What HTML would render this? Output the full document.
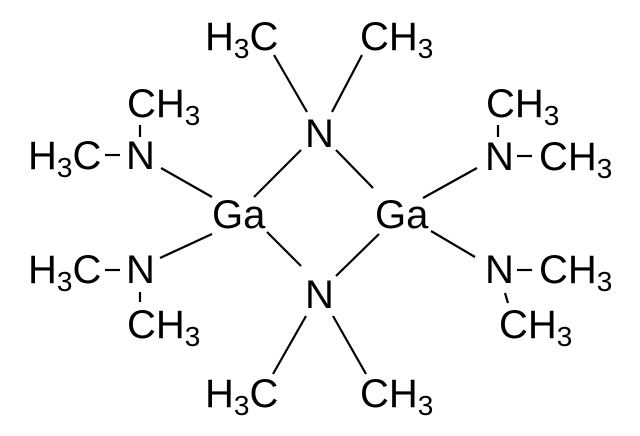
<!DOCTYPE html>
<html><head><style>html,body{margin:0;padding:0;background:#fff}svg{display:block}</style></head>
<body>
<svg width="640" height="436" viewBox="0 0 640 436" xmlns="http://www.w3.org/2000/svg" font-family="Liberation Sans, Arial, sans-serif" font-size="40" fill="#000">
<g stroke="#000" stroke-width="2.2" fill="none">
<line x1="274" y1="55" x2="307" y2="112"/>
<line x1="362" y1="55" x2="332" y2="112"/>
<line x1="301" y1="150" x2="254" y2="197"/>
<line x1="336" y1="150" x2="373" y2="188"/>
<line x1="161" y1="168" x2="212" y2="197"/>
<line x1="212" y1="234" x2="160" y2="258"/>
<line x1="423" y1="198" x2="477" y2="168"/>
<line x1="431" y1="231" x2="475" y2="257"/>
<line x1="267" y1="232" x2="301" y2="266"/>
<line x1="336" y1="276" x2="379" y2="234"/>
<line x1="306" y1="316" x2="273" y2="374"/>
<line x1="333" y1="316" x2="366" y2="374"/>
<line x1="140" y1="125" x2="140" y2="137"/>
<line x1="140" y1="292" x2="140" y2="302"/>
<line x1="498" y1="125" x2="498" y2="137"/>
<line x1="505" y1="293" x2="508" y2="303"/>
<line x1="105" y1="155" x2="120" y2="155"/>
<line x1="105" y1="270" x2="120" y2="270"/>
<line x1="517" y1="156" x2="532" y2="156"/>
<line x1="517" y1="270" x2="532" y2="270"/>
</g>
<text x="205" y="50">H<tspan font-size="28" dy="8">3</tspan><tspan dy="-8">C</tspan></text>
<text x="360" y="50">CH<tspan font-size="28" dy="8">3</tspan></text>
<text x="305" y="147">N</text>
<text x="127" y="117">CH<tspan font-size="28" dy="8">3</tspan></text>
<text x="28" y="169">H<tspan font-size="28" dy="8">3</tspan><tspan dy="-8">C</tspan></text>
<text x="126" y="169">N</text>
<text x="212" y="228">Ga</text>
<text x="375" y="228">Ga</text>
<text x="28" y="283">H<tspan font-size="28" dy="8">3</tspan><tspan dy="-8">C</tspan></text>
<text x="126" y="283">N</text>
<text x="127" y="338">CH<tspan font-size="28" dy="8">3</tspan></text>
<text x="486" y="117">CH<tspan font-size="28" dy="8">3</tspan></text>
<text x="485" y="170">N</text>
<text x="539" y="170">CH<tspan font-size="28" dy="8">3</tspan></text>
<text x="485" y="283">N</text>
<text x="539" y="283">CH<tspan font-size="28" dy="8">3</tspan></text>
<text x="499" y="338">CH<tspan font-size="28" dy="8">3</tspan></text>
<text x="305" y="308">N</text>
<text x="205" y="407">H<tspan font-size="28" dy="8">3</tspan><tspan dy="-8">C</tspan></text>
<text x="360" y="407">CH<tspan font-size="28" dy="8">3</tspan></text>
</svg>
</body></html>
